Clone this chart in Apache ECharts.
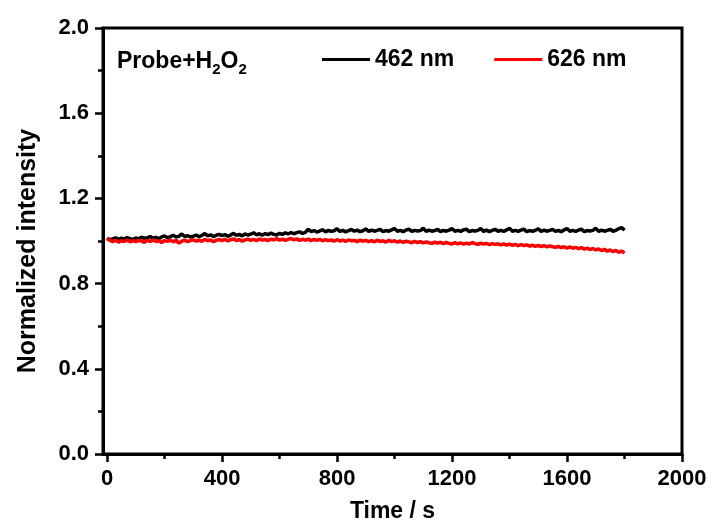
<!DOCTYPE html>
<html>
<head>
<meta charset="utf-8">
<script src="https://cdn.jsdelivr.net/npm/echarts@6/dist/echarts.min.js"></script>
<style>html,body{margin:0;padding:0;background:#fff}#c{width:713px;height:521px}</style>
</head>
<body>
<div id="c"></div>
<script>
// ---- data ----
var seriesNames = ['462 nm', '626 nm'];
var xTickLabels = [0, 400, 800, 1200, 1600, 2000];
var xMinorTicks = [200, 600, 1000, 1400, 1800];
var timeStep = 10; // s
var black462 = [
1.012,1.006,1.010,1.015,1.008,1.013,1.009,1.016,1.011,1.007,
1.014,1.010,1.018,1.012,1.016,1.021,1.013,1.017,1.011,1.019,
1.024,1.016,1.020,1.027,1.018,1.022,1.033,1.021,1.025,1.019,
1.023,1.028,1.020,1.026,1.035,1.024,1.029,1.021,1.027,1.031,
1.025,1.030,1.022,1.028,1.036,1.026,1.031,1.024,1.033,1.028,
1.032,1.039,1.029,1.034,1.027,1.035,1.030,1.037,1.031,1.028,
1.036,1.031,1.038,1.033,1.040,1.034,1.039,1.043,1.036,1.041,
1.055,1.044,1.049,1.042,1.047,1.053,1.043,1.050,1.045,1.048,
1.058,1.045,1.050,1.043,1.049,1.054,1.046,1.051,1.044,1.048,
1.057,1.045,1.051,1.046,1.050,1.055,1.044,1.049,1.046,1.052,
1.059,1.046,1.050,1.044,1.051,1.056,1.045,1.050,1.047,1.049,
1.060,1.045,1.051,1.046,1.049,1.055,1.044,1.050,1.046,1.051,
1.058,1.046,1.050,1.045,1.052,1.056,1.044,1.049,1.047,1.050,
1.059,1.045,1.051,1.044,1.050,1.055,1.046,1.050,1.045,1.052,
1.060,1.046,1.050,1.045,1.051,1.056,1.044,1.049,1.046,1.050,
1.058,1.045,1.051,1.046,1.050,1.055,1.045,1.050,1.044,1.052,
1.059,1.046,1.050,1.045,1.051,1.056,1.044,1.049,1.047,1.050,
1.060,1.045,1.051,1.046,1.050,1.055,1.046,1.050,1.058,1.063,
1.050];
var red626 = [
1.012,1.003,0.997,1.004,0.995,1.001,0.998,1.005,0.996,1.002,
0.997,1.004,0.999,0.994,1.003,0.998,1.006,0.997,1.001,0.993,
1.002,0.998,1.005,0.996,1.003,0.990,0.999,1.004,0.997,1.002,
1.006,0.999,1.004,0.998,1.008,1.001,1.005,0.997,1.003,1.007,
1.002,1.008,1.000,1.006,1.010,1.002,1.007,0.999,1.005,1.009,
1.003,1.008,1.001,1.010,1.004,1.007,1.002,1.009,1.005,1.011,
1.004,1.009,1.003,1.008,1.012,1.005,1.010,1.003,1.008,1.004,
1.009,1.002,1.007,1.003,1.008,1.001,1.006,1.002,1.005,0.999,
1.006,1.000,1.004,0.998,1.005,1.001,1.003,0.997,1.004,0.999,
1.003,0.997,1.002,0.996,1.004,0.998,1.001,0.995,1.003,0.997,
1.001,0.995,1.000,0.994,0.999,0.996,0.992,0.998,0.993,0.997,
0.991,0.996,0.992,0.989,0.995,0.990,0.994,0.988,0.993,0.989,
0.986,0.992,0.987,0.991,0.985,0.990,0.986,0.993,0.988,0.984,
0.990,0.985,0.989,0.983,0.988,0.984,0.987,0.982,0.986,0.981,
0.985,0.980,0.984,0.978,0.983,0.979,0.982,0.976,0.980,0.975,
0.979,0.974,0.978,0.972,0.977,0.973,0.970,0.975,0.969,0.973,
0.967,0.972,0.966,0.970,0.964,0.969,0.962,0.967,0.960,0.965,
0.958,0.963,0.955,0.961,0.952,0.958,0.950,0.956,0.947,0.953,
0.944];

function pairs(arr) {
  return arr.map(function (v, i) { return [i * timeStep, v]; });
}

var FONT = '"Liberation Sans", Arial, sans-serif';
var chart = echarts.init(document.getElementById('c'));
chart.setOption({
  animation: false,
  backgroundColor: '#fff',
  grid: { left: 103, right: 31, top: 28, bottom: 67, show: true, borderColor: '#000', borderWidth: 3,
    containLabel: false, outerBoundsMode: 'none' },
  legend: {
    left: 322, top: 48, padding: 0, icon: 'rect', itemWidth: 48, itemHeight: 3, itemGap: 40,
    textStyle: { fontFamily: FONT, fontWeight: 'bold', fontSize: 23, color: '#000' },
    data: seriesNames
  },
  graphic: [{
    type: 'text', left: 117, top: 46,
    style: {
      text: '{a|Probe+H}{s|2}{a|O}{s|2}',
      rich: {
        a: { fontFamily: FONT, fontWeight: 'bold', fontSize: 23, fill: '#000', lineHeight: 26 },
        s: { fontFamily: FONT, fontWeight: 'bold', fontSize: 15, fill: '#000', padding: [16, 0, 0, 0], lineHeight: 26 }
      }
    }
  }],
  xAxis: [{
    type: 'value', min: -14, max: 2000,
    name: 'Time / s', nameLocation: 'middle', nameGap: 46,
    nameTextStyle: { fontFamily: FONT, fontWeight: 'bold', fontSize: 23, color: '#000' },
    axisLine: { show: true, onZero: false, lineStyle: { color: '#000', width: 3 } },
    axisTick: { show: true, inside: false, length: 8, lineStyle: { color: '#000', width: 2.5 }, customValues: xTickLabels },
    axisLabel: { fontFamily: FONT, fontWeight: 'bold', fontSize: 22, color: '#000', margin: 14, customValues: xTickLabels,
      formatter: function (v) { return String(v); } },
    splitLine: { show: false }
  }, {
    type: 'value', min: -14, max: 2000, position: 'bottom', offset: 0,
    axisLine: { show: false, onZero: false },
    axisTick: { show: true, inside: false, length: 5, lineStyle: { color: '#000', width: 2.5 }, customValues: xMinorTicks },
    axisLabel: { show: false },
    splitLine: { show: false }
  }],
  yAxis: {
    type: 'value', min: 0, max: 2.0, interval: 0.4,
    name: 'Normalized intensity', nameLocation: 'middle', nameGap: 62,
    nameTextStyle: { fontFamily: FONT, fontWeight: 'bold', fontSize: 25, color: '#000', padding: [0, 20, 0, 0] },
    axisLine: { show: true, onZero: false, lineStyle: { color: '#000', width: 3 } },
    axisTick: { show: true, inside: false, length: 8, lineStyle: { color: '#000', width: 2.5 } },
    minorTick: { show: true, splitNumber: 2, length: 5, lineStyle: { color: '#000', width: 2.5 } },
    axisLabel: { fontFamily: FONT, fontWeight: 'bold', fontSize: 22, color: '#000', margin: 14,
      formatter: function (v) { return v.toFixed(1); } },
    splitLine: { show: false }
  },
  series: [{
    name: seriesNames[0], type: 'line', showSymbol: false, symbol: 'none',
    data: pairs(black462), color: '#000', lineStyle: { color: '#000', width: 3.5 }
  }, {
    name: seriesNames[1], type: 'line', showSymbol: false, symbol: 'none',
    data: pairs(red626), color: '#ff0000', lineStyle: { color: '#ff0000', width: 3.5 }
  }]
});
</script>
</body>
</html>
